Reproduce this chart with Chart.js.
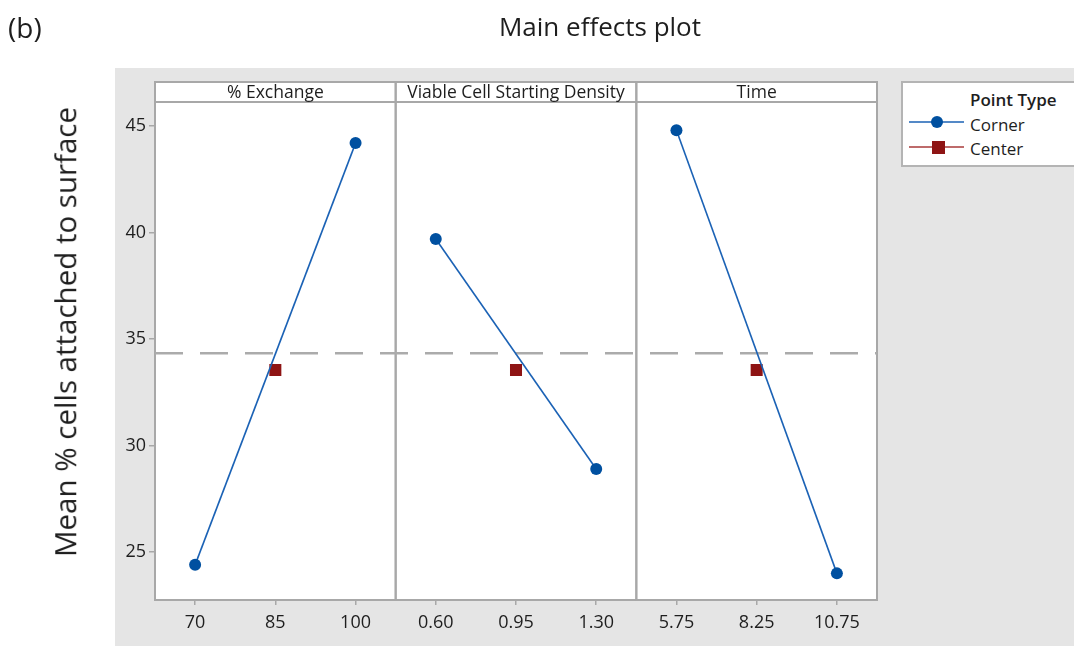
<!DOCTYPE html>
<html>
<head>
<meta charset="utf-8">
<title>Main effects plot</title>
<script src="https://cdn.jsdelivr.net/npm/chart.js@4.4.1/dist/chart.umd.min.js"></script>
<style>
  body { margin: 0; background: #fff; font-family: "Open Sans", sans-serif; color: #1e1e1e; }
  #wrap { position: relative; width: 1074px; height: 646px; overflow: hidden; }
  #bg { position: absolute; left: 115px; top: 68px; width: 959px; height: 578px; background: #e5e5e5; }
  #c { position: absolute; left: 0; top: 0; }
  .txt { position: absolute; white-space: nowrap; line-height: 1; }
  #tag { left: 8px; top: 13px; font-size: 28px; }
  #title { left: 600px; top: 13px; font-size: 26px; transform: translateX(-50%); }
  #ylab { left: 65px; top: 332px; font-size: 29.5px; transform: translate(-50%, -50%) rotate(-90deg); }
  #legend { position: absolute; left: 901px; top: 81px; width: 200px; height: 82px; background: #fff; border: 2px solid #b4b4b4; }
  #legend .head { position: absolute; left: 67px; top: 5px; font-size: 17px; font-weight: 600; }
  #legend .row { position: absolute; left: 4px; height: 20px; }
  #legend .row svg { position: absolute; left: 0; top: 0; }
  #legend .row span { position: absolute; left: 63px; top: 0; font-size: 17px; }
</style>
</head>
<body>
<div id="wrap">
  <div id="bg"></div>
  <canvas id="c" width="1074" height="646"></canvas>
  <div class="txt" id="tag">(b)</div>
  <div class="txt" id="title">Main effects plot</div>
  <div class="txt" id="ylab">Mean % cells attached to surface</div>
  <div id="legend">
    <div class="head">Point Type</div>
    <div class="row" style="top:30px">
      <svg width="60" height="20"><line x1="2" y1="9" x2="57" y2="9" stroke="#1b62b5" stroke-width="1.6"/><circle cx="30" cy="9" r="6" fill="#0050a0"/></svg>
      <span>Corner</span>
    </div>
    <div class="row" style="top:54px">
      <svg width="60" height="20"><line x1="2" y1="10" x2="57" y2="10" stroke="#a83a3a" stroke-width="1.6"/><rect x="25" y="4" width="13" height="13" fill="#8e1414"/></svg>
      <span>Center</span>
    </div>
  </div>
</div>
<script>
// Factor panels and their levels
const panelNames = ['% Exchange', 'Viable Cell Starting Density', 'Time'];
const exchangeLevels = ['70', '85', '100'];
const densityLevels = ['0.60', '0.95', '1.30'];
const timeLevels = ['5.75', '8.25', '10.75'];

// Corner-point means (low, -, high) for each factor
const exchangeCorner = [24.4, null, 44.2];
const densityCorner = [39.7, null, 28.9];
const timeCorner = [44.8, null, 24.0];

// Center-point mean, shown at the middle level of each factor
const exchangeCenter = [null, 33.55, null];
const densityCenter = [null, 33.55, null];
const timeCenter = [null, 33.55, null];

// Overall mean (dashed reference line) and y-axis ticks
const grandMean = 34.33;
const yTicks = [25, 30, 35, 40, 45];

const cornerLine = '#1b62b5';
const cornerFill = '#0050a0';
const centerFill = '#8e1414';
const frameColor = '#a8a8a8';
const textColor = '#1e1e1e';
const font = { family: 'Open Sans', size: 18 };

const levelSets = [exchangeLevels, densityLevels, timeLevels];
const cornerSets = [exchangeCorner, densityCorner, timeCorner];
const centerSets = [exchangeCenter, densityCenter, timeCenter];

const datasets = [];
const scales = {
  y: {
    type: 'linear',
    position: 'left',
    min: 22.75,
    max: 46.13,
    afterBuildTicks: s => { s.ticks = yTicks.map(v => ({ value: v })); },
    afterFit: s => { s.width = 55; },
    grid: { drawOnChartArea: false, drawTicks: true, tickLength: 6, color: frameColor, lineWidth: 1.5 },
    border: { display: false },
    ticks: { color: textColor, font, padding: 3 }
  }
};

levelSets.forEach((levels, i) => {
  const id = 'x' + i;
  scales[id] = {
    type: 'category',
    labels: levels,
    position: 'bottom',
    stack: 'panels',
    stackWeight: 1,
    offset: true,
    afterFit: s => { s.height = 46; },
    grid: { drawOnChartArea: false, drawTicks: true, tickLength: 5, color: frameColor, lineWidth: 1.5, offset: false },
    border: { display: false },
    ticks: { color: textColor, font, padding: 7, maxRotation: 0, autoSkip: false }
  };
  datasets.push({
    label: 'Corner',
    xAxisID: id,
    yAxisID: 'y',
    data: cornerSets[i],
    spanGaps: true,
    borderColor: cornerLine,
    borderWidth: 1.6,
    pointStyle: 'circle',
    pointRadius: 6,
    pointBorderWidth: 0,
    pointBackgroundColor: cornerFill,
    pointBorderColor: cornerFill
  });
  datasets.push({
    label: 'Center',
    xAxisID: id,
    yAxisID: 'y',
    data: centerSets[i],
    showLine: false,
    pointStyle: 'rect',
    pointRadius: 8.5,
    pointBorderWidth: 0,
    pointBackgroundColor: centerFill,
    pointBorderColor: centerFill
  });
});

// Panel frames, strip headers and the overall-mean reference line
const panelFrames = {
  id: 'panelFrames',
  beforeDatasetsDraw(chart) {
    const { ctx, chartArea } = chart;
    const stripTop = 82;
    ctx.save();
    ctx.fillStyle = '#fff';
    ctx.fillRect(chartArea.left, stripTop, chartArea.right - chartArea.left, chartArea.bottom - stripTop);
    ctx.strokeStyle = frameColor;
    ctx.lineWidth = 2;
    panelNames.forEach((name, i) => {
      const sc = chart.scales['x' + i];
      ctx.strokeRect(sc.left, stripTop, sc.right - sc.left, chartArea.bottom - stripTop);
      ctx.beginPath();
      ctx.moveTo(sc.left, chartArea.top);
      ctx.lineTo(sc.right, chartArea.top);
      ctx.stroke();
      ctx.fillStyle = textColor;
      ctx.font = '17.5px "Open Sans"';
      ctx.textAlign = 'center';
      ctx.textBaseline = 'middle';
      ctx.fillText(name, (sc.left + sc.right) / 2, (stripTop + chartArea.top) / 2 + 1);
    });
    // overall mean
    const y = chart.scales.y.getPixelForValue(grandMean);
    ctx.strokeStyle = '#ababab';
    ctx.lineWidth = 2.5;
    ctx.setLineDash([28, 17]);
    ctx.beginPath();
    ctx.moveTo(chartArea.left, y);
    ctx.lineTo(chartArea.right, y);
    ctx.stroke();
    ctx.restore();
  }
};

new Chart(document.getElementById('c'), {
  type: 'line',
  data: { datasets },
  options: {
    responsive: false,
    maintainAspectRatio: false,
    animation: false,
    layout: { padding: { left: 100, right: 197, top: 102, bottom: 0 } },
    plugins: { legend: { display: false }, tooltip: { enabled: false } },
    scales
  },
  plugins: [panelFrames]
});
</script>
</body>
</html>
